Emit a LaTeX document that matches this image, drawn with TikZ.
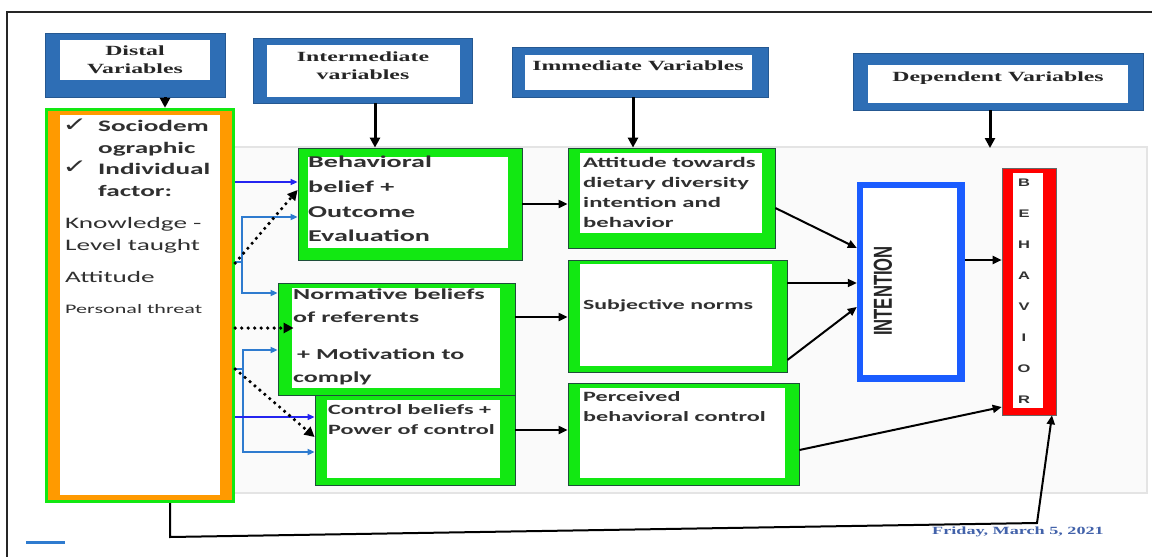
\documentclass[tikz,border=0pt]{standalone}
\usepackage{fontspec}
\setmainfont{Carlito}[FakeStretch=1.7]
\newfontfamily\hdf{Liberation Serif}[FakeStretch=1.7]
\newfontfamily\datef{Liberation Serif}[FakeStretch=1.65]
\newfontfamily\chkf{DejaVu Sans}[FakeStretch=1.5]
\newfontfamily\narrowf{Liberation Sans}[FakeStretch=0.64]
\newfontfamily\bhvf{Liberation Sans}[FakeStretch=1.5]
\usetikzlibrary{arrows.meta,calc}
\definecolor{hblue}{HTML}{2E6EB5}
\definecolor{gr}{HTML}{12E812}
\definecolor{grdark}{HTML}{1E4E3A}
\definecolor{org}{HTML}{FF9A00}
\definecolor{iblue}{HTML}{1A5CFF}
\definecolor{sblue}{HTML}{2E7BCF}
\definecolor{pblue}{HTML}{2424F0}
\definecolor{txt}{HTML}{303030}
\definecolor{datec}{HTML}{4262AA}
\definecolor{panel}{HTML}{FAFAFA}
\definecolor{panelb}{HTML}{E4E4E4}
\definecolor{redb}{HTML}{FF0000}
\tikzset{
  hbox/.style={fill=hblue, draw=hblue!80!black, line width=0.6pt, inner sep=0pt},
  gbox/.style={fill=gr, draw=grdark, line width=0.8pt, inner sep=0pt},
  htext/.style={font=\hdf\bfseries\fontsize{14}{18}\selectfont, align=center, text=black!85, inner sep=0pt},
  btext/.style={font=\bfseries\fontsize{16}{21.7}\selectfont, align=left, text=txt, anchor=north west, inner sep=0pt},
  arr/.style={-{Triangle[length=9pt,width=8pt]}, line width=2pt, black},
  downarr/.style={-{Triangle[length=10pt,width=10pt]}, line width=3pt, black},
  barr/.style={-{Triangle[length=7pt,width=6pt]}, line width=1.5pt, pblue},
  sarr/.style={-{Triangle[length=7pt,width=6pt]}, line width=2pt, sblue},
  dotarr/.style={-{Triangle[length=10pt,width=10pt]}, line width=3.6pt, black, line cap=round, dash pattern=on 0pt off 6.5pt},
  chk/.style={font=\chkf\fontsize{20}{20}\selectfont, text=txt, inner sep=0pt},
}
\begin{document}
\begin{tikzpicture}[x=1pt,y=-1pt]
\useasboundingbox (0,0) rectangle (1152,557);
\fill[white] (0,0) rectangle (1152,557);
% frame
\draw[black!85, line width=1.2pt] (7,557) -- (7,12) -- (1152,12);
% panel
\draw[panelb, fill=panel, line width=2pt] (233,147) rectangle (1147,493);

% header boxes
\node[hbox, minimum width=180pt, minimum height=64pt] (hd) at (135,65) {};
\fill[white] (60,40) rectangle (210,80);
\node[htext] (hdt) at (135,60) {Distal\\Variables};

\node[hbox, minimum width=219pt, minimum height=65pt] (hi) at (362.5,70.5) {};
\fill[white] (267,45) rectangle (460,97);
\node[htext] (hit) at (363,66) {Intermediate\\variables};

\node[hbox, minimum width=256pt, minimum height=50pt] (hm) at (640,72) {};
\fill[white] (525,55) rectangle (752,90);
\node[htext] (hmt) at (638,66) {Immediate Variables};

\node[hbox, minimum width=290pt, minimum height=57pt] (hdp) at (998,81.5) {};
\fill[white] (868,65) rectangle (1128,103);
\node[htext] (hdpt) at (998,78) {Dependent Variables};

% left box
\node[fill=gr, inner sep=0pt, minimum width=190pt, minimum height=395pt] (lbox) at (140,305.5) {};
\fill[org] (48,111) rectangle (232,500);
\fill[white] (60,115) rectangle (220,495);
\node[chk] (c1) at (75,125) {✓};
\node[chk] (c2) at (75,167) {✓};
\node[btext] (lt1) at (98,120) {Sociodem\\ographic\\Individual\\factor:};
\node[btext, font=\fontsize{16}{22}\selectfont] (lt2) at (65,217) {Knowledge -\\Level taught};
\node[btext, font=\fontsize{16}{22}\selectfont] (lt3) at (65,271) {Attitude};
\node[btext, font=\fontsize{13}{16}\selectfont] (lt4) at (65,304) {Personal threat};

% green boxes
\node[gbox, minimum width=224pt, minimum height=112pt] (beh) at (410,204) {};
\fill[white] (308,157) rectangle (508,248);
\node[btext, font=\bfseries\fontsize{16.5}{24.7}\selectfont] (beht) at (308,156) {Behavioral\\belief +\\Outcome\\Evaluation};

\node[gbox, minimum width=207pt, minimum height=100pt] (att) at (671.5,198) {};
\fill[white] (580,153) rectangle (762,233);
\node[btext, font=\bfseries\fontsize{14.5}{20}\selectfont] (attt) at (583,157) {Attitude towards\\dietary diversity\\intention and\\behavior};

\node[gbox, minimum width=219pt, minimum height=112pt] (sub) at (677.5,316) {};
\fill[white] (580,264) rectangle (772,366);
\node[btext, font=\bfseries\fontsize{14}{20}\selectfont] (subt) at (583,299) {Subjective norms};

\node[gbox, minimum width=231pt, minimum height=102pt] (perc) at (683.5,434) {};
\fill[white] (580,388) rectangle (785,478);
\node[btext, font=\bfseries\fontsize{14.2}{20}\selectfont] (perct) at (583,391) {Perceived\\behavioral control};

\node[gbox, minimum width=200pt, minimum height=90pt] (ctrl) at (415,440) {};
\fill[white] (327,400) rectangle (500,478);
\node[btext, font=\bfseries\fontsize{14.2}{20.5}\selectfont] (ctrlt) at (328,404) {Control beliefs +\\Power of control};

\node[gbox, minimum width=237pt, minimum height=112pt] (norm) at (396.5,339) {};
\fill[white] (292,288) rectangle (500,388);
\node[btext, font=\bfseries\fontsize{15.3}{23}\selectfont] (normt) at (293,289) {Normative beliefs\\of referents\\[14pt]\hspace{4pt}+ Motivation to\\comply};

% INTENTION
\node[fill=iblue, inner sep=0pt, minimum width=108pt, minimum height=200pt] (int) at (911,282) {};
\fill[white] (863,188) rectangle (957,375);
\node[rotate=90, font=\narrowf\bfseries\fontsize{26}{26}\selectfont, text=black!85, inner sep=0pt] (intt) at (883,291) {INTENTION};

% BEHAVIOR
\node[fill=redb, draw=black!60, line width=0.6pt, inner sep=0pt, minimum width=54pt, minimum height=247pt] (bhv) at (1029,291.5) {};
\fill[white] (1013,173) rectangle (1043,408);
\node[font=\bhvf\bfseries\fontsize{11}{31}\selectfont, align=center, text=black!80, inner sep=0pt] (bhvt) at (1024,291) {B\\E\\H\\A\\V\\I\\O\\R};

% header arrows
\draw[downarr] (165,0 |- hd.south) -- (165,0 |- lbox.north);
\draw[downarr] (375,0 |- hi.south) -- (375,0 |- beh.north);
\draw[downarr] (633,0 |- hm.south) -- (633,0 |- att.north);
\coordinate (depend) at (990,148);
\draw[downarr] (990,0 |- hdp.south) -- (depend);

% middle arrows
\draw[arr] (beh.east) -- (beh.east -| att.west);
\draw[arr] (norm.east |- 0,317) -- (sub.west |- 0,317);
\draw[arr] (ctrl.east |- 0,430) -- (perc.west |- 0,430);
\draw[arr] (att.east |- 0,208) -- (int.west |- 0,248);
\draw[arr] (sub.east |- 0,283) -- (int.west |- 0,283);
\draw[arr] (sub.east |- 0,360) -- (int.west |- 0,307);
\draw[arr] (perc.east |- 0,450) -- (bhv.west |- 0,407);
\draw[arr] (int.east |- 0,260) -- (bhv.west |- 0,260);
\coordinate (lp1) at (170,537);
\coordinate (lp2) at (1037,523);
\draw[arr] (170,0 |- lbox.south) -- (lp1) -- (lp2) -- (1052,0 |- bhv.south);

% left connectors
\coordinate (j1) at (242,262);
\coordinate (j2) at (243,369);
\draw[barr] (lbox.east |- 0,182) -- (beh.west |- 0,182);
\draw[sblue, line width=2pt] (lbox.east |- j1) -- (j1);
\draw[sarr] (j1) -- (242,217) -- (beh.west |- 0,217);
\draw[sarr] (j1) -- (242,293) -- (norm.west |- 0,293);
\draw[dotarr] (lbox.east |- 0,263) -- (beh.west |- 0,190);
\draw[dotarr, shorten >=-16pt] (lbox.east |- 0,328) -- (norm.west |- 0,328);
\draw[sblue, line width=2pt] (lbox.east |- j2) -- (j2);
\draw[sarr] (j2) -- (243,350) -- (norm.west |- 0,350);
\draw[sarr] (j2) -- (243,452) -- (ctrl.west |- 0,452);
\draw[barr] (lbox.east |- 0,417) -- (ctrl.west |- 0,417);
\draw[dotarr] (lbox.east |- 0,369) -- (ctrl.west |- 0,437);

% bottom marks
\draw[sblue, line width=3pt] (26,542) -- (65,542);
\node[font=\datef\bfseries\fontsize{11}{11}\selectfont, text=datec, inner sep=0pt] (date) at (1018,532) {Friday, March 5, 2021};
\end{tikzpicture}
\end{document}
